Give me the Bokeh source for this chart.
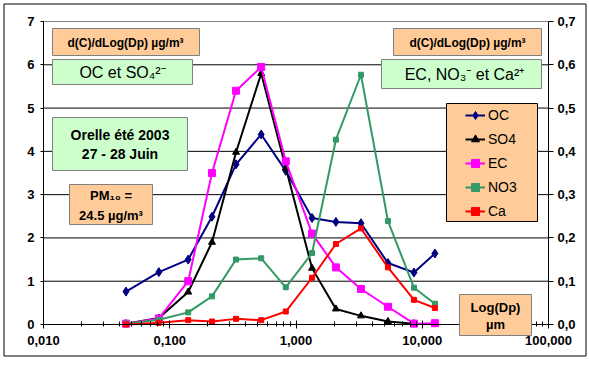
from bokeh.plotting import figure
from bokeh.models import (Range1d, LinearAxis, FixedTicker, Legend, LegendItem,
                          BoxAnnotation, Label)
from bokeh.embed import file_html
from bokeh.resources import INLINE

# ---------------- data ----------------
dp = [0.045, 0.082, 0.140, 0.216, 0.335, 0.53, 0.83, 1.34, 2.07, 3.27, 5.35, 8.6, 12.6]
oc = [0.76, 1.21, 1.50, 2.49, 3.70, 4.39, 3.55, 2.46, 2.37, 2.34, 1.42, 1.20, 1.64]
so4 = [0.02, 0.15, 0.75, 1.90, 3.98, 5.80, 3.62, 1.30, 0.36, 0.20, 0.07, 0.02, float("nan")]
ec = [0.002, 0.014, 0.100, 0.350, 0.540, 0.595, 0.377, 0.210, 0.132, 0.082, 0.041, 0.002, 0.003]
no3 = [0.002, 0.011, 0.028, 0.065, 0.150, 0.153, 0.086, 0.165, 0.427, 0.577, 0.239, 0.085, 0.048]
ca = [0.000, 0.004, 0.010, 0.007, 0.013, 0.010, 0.030, 0.108, 0.186, 0.222, 0.132, 0.057, 0.038]

x_ticks = [0.01, 0.1, 1, 10, 100]
x_tick_labels = ["0,010", "0,100", "1,000", "10,000", "100,000"]
y_left_ticks = [0, 1, 2, 3, 4, 5, 6, 7]
y_left_labels = ["0", "1", "2", "3", "4", "5", "6", "7"]
y_right_ticks = [0.0, 0.1, 0.2, 0.3, 0.4, 0.5, 0.6, 0.7]
y_right_labels = ["0,0", "0,1", "0,2", "0,3", "0,4", "0,5", "0,6", "0,7"]

series_names = ["OC", "SO4", "EC", "NO3", "Ca"]

# ---------------- layout (page pixel positions) ----------------
FONT = "Liberation Sans"
X0, Y0 = 0, 0            # canvas origin on the page
W, H = 589, 359
PX_L, PX_R = 43, 548     # page x of 0.01 and 100
PY_T, PY_B = 21, 324     # page y of 7 and 0
DEC = (PX_R - PX_L) / 4
UNIT = (PY_B - PY_T) / 7

x_start = 10 ** (-2 - (PX_L - X0) / DEC)
x_end = 10 ** (2 + (X0 + W - PX_R) / DEC)
y_start = -(Y0 + H - PY_B) / UNIT
y_end = 7 + (PY_T - Y0) / UNIT


def xd(px):
    return 10 ** (-2 + (px - PX_L) / DEC)


def yd(py):
    return (PY_B - py) / UNIT


p = figure(width=W, height=H, min_border=0,
           min_border_left=0, min_border_right=0, min_border_top=0, min_border_bottom=0,
           x_axis_type="log", x_range=Range1d(x_start, x_end), y_range=Range1d(y_start, y_end),
           output_backend="svg", toolbar_location=None)
p.extra_y_ranges = {"right": Range1d(y_start / 10, y_end / 10)}
p.background_fill_color = "white"
p.border_fill_color = "white"
p.outline_line_color = None
p.xgrid.visible = False
p.ygrid.visible = False

# axes (drawn inside the frame at fixed positions)
xax = p.xaxis[0]
xax.fixed_location = 0
xax.bounds = (x_ticks[0], x_ticks[-1])
xax.ticker = FixedTicker(ticks=x_ticks,
                         minor_ticks=[k * 10 ** e for e in (-2, -1, 0, 1) for k in range(2, 10)])
xax.major_label_overrides = dict(zip(x_ticks, x_tick_labels))

yax = p.yaxis[0]
yax.fixed_location = x_ticks[0]
yax.bounds = (y_left_ticks[0], y_left_ticks[-1])
yax.ticker = FixedTicker(ticks=y_left_ticks)
yax.major_label_overrides = dict(zip(y_left_ticks, y_left_labels))

raxis = LinearAxis(y_range_name="right", ticker=FixedTicker(ticks=y_right_ticks))
raxis.fixed_location = x_ticks[-1]
raxis.bounds = (y_right_ticks[0], y_right_ticks[-1])
raxis.major_label_overrides = dict(zip(y_right_ticks, y_right_labels))
p.add_layout(raxis, "right")

for ax in (xax, yax, raxis):
    ax.axis_line_color = "black"
    ax.major_tick_line_color = "black"
    ax.minor_tick_line_color = "black"
    ax.major_label_text_font = FONT
    ax.major_label_text_font_style = "bold"
    ax.major_label_text_font_size = "13px"
    ax.major_label_text_color = "black"

xax.major_tick_in = 4
xax.major_tick_out = 4
xax.minor_tick_in = 3
xax.minor_tick_out = 2
xax.major_label_standoff = 7
yax.major_tick_in = 0
yax.major_tick_out = 3
yax.minor_tick_line_color = None
yax.major_label_standoff = 6
raxis.major_tick_in = 0
raxis.major_tick_out = 5
raxis.minor_tick_line_color = None
raxis.major_label_standoff = 4

# horizontal grid lines between the two value axes
p.segment(x0=x_ticks[0], x1=x_ticks[-1], y0=y_left_ticks[1:-1], y1=y_left_ticks[1:-1],
          line_color="black", line_width=1)
p.segment(x0=x_ticks[0], x1=x_ticks[-1], y0=y_left_ticks[-1:], y1=y_left_ticks[-1:],
          line_color="#808080", line_width=1)

# ---------------- series ----------------
l_oc = p.line(dp, oc, line_color="#000080", line_width=2)
m_oc = p.scatter(dp, oc, marker="diamond", size=9, color="#000080")
l_so4 = p.line(dp, so4, line_color="black", line_width=2)
m_so4 = p.scatter(dp, so4, marker="triangle", size=7, color="black")
l_ec = p.line(dp, ec, line_color="#FF00FF", line_width=2, y_range_name="right")
m_ec = p.scatter(dp, ec, marker="square", size=7, color="#FF00FF", y_range_name="right")
l_no3 = p.line(dp, no3, line_color="#339966", line_width=2, y_range_name="right")
m_no3 = p.scatter(dp, no3, marker="square", size=5, color="#339966", y_range_name="right")
l_ca = p.line(dp, ca, line_color="#FF0000", line_width=2, y_range_name="right")
m_ca = p.scatter(dp, ca, marker="square", size=5, color="#FF0000", y_range_name="right")

# ---------------- boxes & texts ----------------
ORANGE = "#FFCC99"
GREEN = "#CCFFCC"


def box(l, t, r, b, fill, line="#808080"):
    p.add_layout(BoxAnnotation(left=xd(l), right=xd(r), top=yd(t), bottom=yd(b),
                               fill_color=fill, fill_alpha=1 if fill else 0,
                               line_color=line, line_width=1, line_alpha=1))


def label(x, y, text, size, style):
    p.add_layout(Label(x=xd(x), y=yd(y), text=text, text_font=FONT,
                       text_font_size=size, text_font_style=style,
                       text_align="center", text_baseline="middle", text_color="black"))


# outer chart border
box(3.5, 3.5, 585.5, 355.5, None, line="black")

box(52, 28, 199, 55, ORANGE)
box(52, 59, 192, 84, GREEN)
box(52, 117, 187, 170, GREEN)
box(69, 184, 152, 224, ORANGE)
box(393, 28, 541, 55, ORANGE)
box(381, 59, 541, 88, GREEN)
box(446, 103, 537, 221, ORANGE, line="black")
box(459, 294, 531, 335, ORANGE)

label(125, 42, "d(C)/dLog(Dp) µg/m³", "12px", "bold")
label(122, 72, "OC et SO₄²⁻", "16px", "normal")
label(119.5, 134.5, "Orelle été 2003", "14px", "bold")
label(119.5, 153, "27 - 28 Juin", "14px", "bold")
label(110.5, 195, "PM₁₀ =", "13px", "bold")
label(110.5, 215, "24.5 µg/m³", "13px", "bold")
label(467, 42, "d(C)/dLog(Dp) µg/m³", "12px", "bold")
label(464, 74, "EC, NO₃⁻ et Ca²⁺", "16px", "normal")
label(495, 307, "Log(Dp)", "13px", "bold")
label(495, 324, "µm", "13px", "bold")

# ---------------- legend ----------------
legend = Legend(items=[LegendItem(label=n, renderers=r) for n, r in zip(
    series_names, [[l_oc, m_oc], [l_so4, m_so4], [l_ec, m_ec], [l_no3, m_no3], [l_ca, m_ca]])],
    location=(465 - X0, H - (105 - Y0) - 116),
    padding=0, margin=0, spacing=4, glyph_width=20, glyph_height=20, label_height=20,
    label_standoff=3, background_fill_alpha=0, border_line_alpha=0,
    label_text_font=FONT, label_text_font_size="14px", label_text_color="black")
p.add_layout(legend)

open("out.html", "w").write(file_html(p, INLINE))
